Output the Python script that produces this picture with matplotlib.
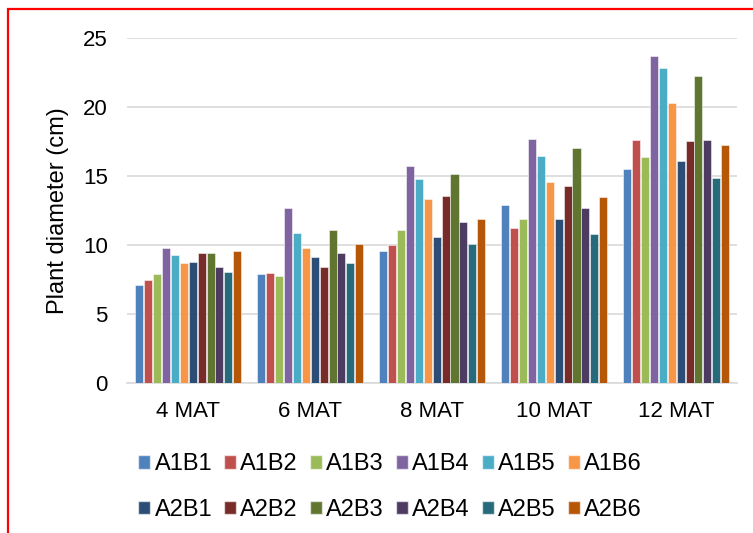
import matplotlib
matplotlib.use("Agg")
import matplotlib.pyplot as plt
from matplotlib.patches import Patch, Rectangle
import numpy as np

plt.rcParams['font.family'] = ['Liberation Sans', 'DejaVu Sans']

meses = ["4 MAT", "6 MAT", "8 MAT", "10 MAT", "12 MAT"]
tratamentos = ["A1B1", "A1B2", "A1B3", "A1B4", "A1B5", "A1B6",
               "A2B1", "A2B2", "A2B3", "A2B4", "A2B5", "A2B6"]
cores = ["#4F81BD", "#C0504D", "#9BBB59", "#8064A2", "#4BACC6", "#F79646",
         "#2C4D75", "#772C2A", "#5F7530", "#4D3B62", "#276A7C", "#B65708"]

# diametro (cm) por tratamento, um valor por mes
A1B1 = [7.1, 7.9, 9.6, 12.9, 15.5]
A1B2 = [7.5, 8.0, 10.0, 11.2, 17.6]
A1B3 = [7.9, 7.75, 11.1, 11.9, 16.4]
A1B4 = [9.8, 12.7, 15.7, 17.7, 23.7]
A1B5 = [9.25, 10.9, 14.75, 16.45, 22.8]
A1B6 = [8.7, 9.8, 13.35, 14.55, 20.3]
A2B1 = [8.8, 9.15, 10.6, 11.9, 16.05]
A2B2 = [9.45, 8.4, 13.55, 14.25, 17.5]
A2B3 = [9.45, 11.1, 15.15, 17.0, 22.25]
A2B4 = [8.4, 9.45, 11.65, 12.7, 17.6]
A2B5 = [8.05, 8.7, 10.05, 10.8, 14.85]
A2B6 = [9.55, 10.1, 11.9, 13.45, 17.25]

valores = [A1B1, A1B2, A1B3, A1B4, A1B5, A1B6,
           A2B1, A2B2, A2B3, A2B4, A2B5, A2B6]

fig = plt.figure(figsize=(7.53, 5.33), dpi=100)
ax = fig.add_axes([0.169, 0.281, 0.81, 0.648])

x = np.arange(len(meses))
n = len(tratamentos)
slot = 0.877 / n
for i, (serie, cor) in enumerate(zip(valores, cores)):
    pos = x - 0.877 / 2 + slot * (i + 0.5)
    ax.bar(pos, serie, width=slot * 0.9, color=cor,
           edgecolor=(1, 1, 1, 0.6), linewidth=0.6, zorder=3)

ax.set_xlim(-0.5, len(meses) - 0.5)
ax.set_ylim(0, 25)
ax.set_yticks([0, 5, 10, 15, 20, 25])
ax.set_xticks(x)
ax.set_xticklabels(meses)
ax.tick_params(axis='both', length=0, labelsize=16, colors='black')
ax.tick_params(axis='y', pad=14)
ax.tick_params(axis='x', pad=13)
ax.grid(axis='y', color='#D9D9D9', linewidth=1.2, zorder=0)
for lado in ['left', 'right', 'top']:
    ax.spines[lado].set_visible(False)
ax.spines['bottom'].set_color('#D9D9D9')
ax.spines['bottom'].set_linewidth(1.2)
ax.set_ylabel("Plant diameter (cm)", fontsize=17, labelpad=10)

# legenda preenchida por linha (matplotlib preenche por coluna)
ncol = 6
handles = [Patch(facecolor=c, edgecolor=(1, 1, 1, 0.6)) for c in cores]
ordem = [r * ncol + c for c in range(ncol) for r in range(2)]
fig.legend([handles[k] for k in ordem], [tratamentos[k] for k in ordem],
           loc='center', ncol=ncol,
           bbox_to_anchor=(390 / 753, 1 - 487 / 533), frameon=False,
           fontsize=17, handlelength=0.5, handleheight=0.5,
           handletextpad=0.2, columnspacing=0.5, labelspacing=1.0)

# moldura vermelha
fig.patches.append(Rectangle((8 / 753, -0.1), 1.2, 1 - 9.5 / 533 + 0.1,
                             transform=fig.transFigure, fill=False,
                             edgecolor='red', linewidth=1.6))

plt.savefig("out.png", dpi=100)
